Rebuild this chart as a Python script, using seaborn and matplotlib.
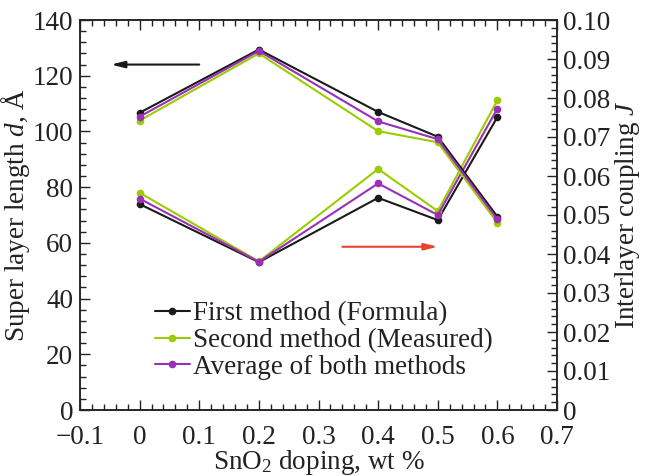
import numpy as np
import pandas as pd
import matplotlib
matplotlib.use("Agg")
import matplotlib.pyplot as plt
import seaborn as sns
from matplotlib.ticker import MultipleLocator, FixedLocator, FixedFormatter

# ---- data ----
doping = [0.0, 0.2, 0.4, 0.5, 0.6]
methods = ["First method (Formula)", "Second method (Measured)", "Average of both methods"]
d_first = [106.7, 129.4, 107.0, 98.1, 69.4]
d_second = [103.9, 128.0, 100.1, 96.1, 67.2]
d_avg = [105.3, 128.9, 103.6, 97.2, 68.4]
j_first = [0.0528, 0.0379, 0.0544, 0.0487, 0.0751]
j_second = [0.0557, 0.0381, 0.0618, 0.0510, 0.0794]
j_avg = [0.0542, 0.0380, 0.0581, 0.0500, 0.0773]

x_ticks = [-0.1, 0.0, 0.1, 0.2, 0.3, 0.4, 0.5, 0.6, 0.7]
x_labels = ["\u22120.1", "0", "0.1", "0.2", "0.3", "0.4", "0.5", "0.6", "0.7"]
yl_ticks = [0, 20, 40, 60, 80, 100, 120, 140]
yl_labels = ["0", "20", "40", "60", "80", "100", "120", "140"]
yr_ticks = [0.0, 0.01, 0.02, 0.03, 0.04, 0.05, 0.06, 0.07, 0.08, 0.09, 0.10]
yr_labels = ["0", "0.01", "0.02", "0.03", "0.04", "0.05", "0.06", "0.07", "0.08", "0.09", "0.10"]

colors = ["#1a1a1a", "#9acd00", "#9a30b8"]

df_d = pd.DataFrame({
    "x": doping * 3,
    "y": d_first + d_second + d_avg,
    "method": [m for m in methods for _ in doping],
})
df_j = pd.DataFrame({
    "x": doping * 3,
    "y": j_first + j_second + j_avg,
    "method": [m for m in methods for _ in doping],
})

sns.set_style("ticks")
plt.rcParams["font.family"] = ["Liberation Serif", "DejaVu Serif"]
plt.rcParams["mathtext.fontset"] = "custom"
plt.rcParams["mathtext.rm"] = "Liberation Serif"
plt.rcParams["mathtext.it"] = "Liberation Serif:italic"
plt.rcParams["axes.unicode_minus"] = True

FS = 19.5
fig = plt.figure(figsize=(6.45, 4.76), dpi=100)
ax = fig.add_axes([80 / 645, 66 / 476, 477 / 645, 390 / 476])
ax2 = ax.twinx()

pal = dict(zip(methods, colors))
sns.lineplot(data=df_d, x="x", y="y", hue="method", palette=pal, marker="o",
             markersize=5.5, markeredgewidth=0, linewidth=1.5, ax=ax, legend=True,
             hue_order=methods)
sns.lineplot(data=df_j, x="x", y="y", hue="method", palette=pal, marker="o",
             markersize=5.5, markeredgewidth=0, linewidth=1.5, ax=ax2, legend=False,
             hue_order=methods)

ax.set_xlim(-0.1, 0.7)
ax.set_ylim(0, 140)
ax2.set_ylim(0, 0.10)

ax.xaxis.set_major_locator(FixedLocator(x_ticks))
ax.xaxis.set_major_formatter(FixedFormatter(x_labels))
ax.xaxis.set_minor_locator(MultipleLocator(0.02))
ax.yaxis.set_major_locator(FixedLocator(yl_ticks))
ax.yaxis.set_major_formatter(FixedFormatter(yl_labels))
ax.yaxis.set_minor_locator(MultipleLocator(4))
ax2.yaxis.set_major_locator(FixedLocator(yr_ticks))
ax2.yaxis.set_major_formatter(FixedFormatter(yr_labels))
ax2.yaxis.set_minor_locator(MultipleLocator(0.002))

ax.tick_params(axis="x", which="both", direction="in", top=True, bottom=True,
               labelsize=FS, pad=10.5, colors="#222222")
ax.tick_params(axis="y", which="both", direction="in", left=True, right=False,
               labelsize=FS, pad=5, colors="#222222")
ax2.tick_params(axis="y", which="both", direction="in", right=True, left=False,
                labelsize=FS, pad=4, colors="#222222")
for a in (ax, ax2):
    a.tick_params(which="major", length=7, width=1)
    a.tick_params(which="minor", length=4, width=1)
    for s in a.spines.values():
        s.set_color("#222222")
        s.set_linewidth(1.1)

ax.set_xlabel(r"SnO$_2$ doping, wt %", fontsize=FS, labelpad=-1, color="#222222")
ax.set_ylabel(r"Super layer length $d$, Å", fontsize=FS, labelpad=0, color="#222222")
ax2.set_ylabel(r"Interlayer coupling $J$", fontsize=FS, labelpad=2, color="#222222")

# arrows indicating axes
ax.annotate("", xy=(-0.048, 124), xytext=(0.1, 124),
            arrowprops=dict(arrowstyle="-|>,head_length=0.8,head_width=0.2",
                            color="#1a1a1a", lw=1.5, shrinkA=0, shrinkB=0))
ax.annotate("", xy=(0.50, 58.6), xytext=(0.34, 58.6),
            arrowprops=dict(arrowstyle="-|>,head_length=0.8,head_width=0.2",
                            color="#e8432f", lw=1.5, shrinkA=0, shrinkB=0))

handles, labels = ax.get_legend_handles_labels()
leg = ax.legend(handles, labels, loc="upper left", bbox_to_anchor=(0.157, 0.278),
                frameon=False, fontsize=FS, handlelength=1.3, handletextpad=0.12,
                labelspacing=0.06, borderpad=0, borderaxespad=0)
for t in leg.get_texts():
    t.set_color("#222222")

ax.set_zorder(ax2.get_zorder() + 1)
ax.patch.set_visible(False)

fig.savefig("out.png", dpi=100)
